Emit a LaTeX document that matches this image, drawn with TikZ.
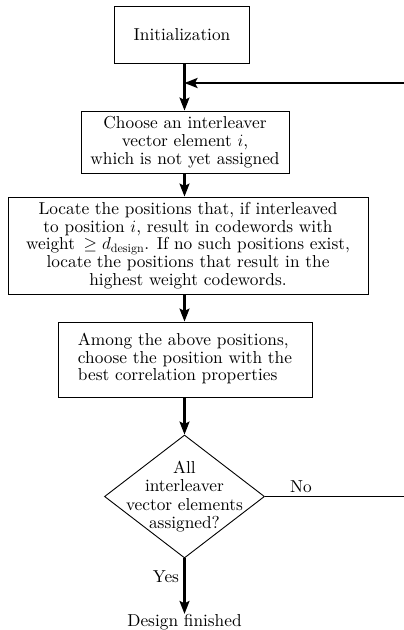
\RequirePackage{fix-cm}
\documentclass[tikz,border=0pt]{standalone}
\usepackage{fontspec}
\setmainfont{lmroman10-regular.otf}[ItalicFont=lmroman10-italic.otf,BoldFont=lmroman10-bold.otf]
\usetikzlibrary{arrows.meta,shapes.geometric}
\begin{document}
\begin{tikzpicture}[x=1pt,y=-1pt,
  font=\fontsize{17.3}{17.8}\selectfont,
  box/.style={draw,line width=0.9pt,inner sep=0pt,align=center},
  flow/.style={line width=2.2pt,-{Stealth[length=13pt,width=10pt,inset=2.5pt]}},
  thin/.style={line width=1.1pt},
  lbl/.style={inner sep=0pt}]
\useasboundingbox (0,0) rectangle (404,630);
\node[box,minimum width=135pt,minimum height=57pt] (init) at (182,34.5) {Initialization};
\node[box,minimum width=208pt,minimum height=62pt] (choose) at (185,142)
  {Choose an interleaver\\vector element $i$,\\which is not yet assigned};
\node[box,minimum width=360pt,minimum height=97pt] (locate) at (188,245.5)
  {Locate the positions that, if interleaved\\to position $i$, result in codewords with\\weight $\,\geq d_{\mathrm{design}}$. If no such positions exist,\\locate the positions that result in the\\highest weight codewords.};
\node[box,minimum width=254pt,minimum height=75pt] (among) at (185,359.5)
  {\begin{tabular}{@{}l@{}}Among the above positions,\\choose the position with the\\best correlation properties\end{tabular}};
\node[draw,diamond,line width=0.9pt,minimum width=160pt,minimum height=123pt,inner sep=0pt] (dec) at (184.5,496.5) {};
\node[lbl,align=center,font=\fontsize{17.3}{18.3}\selectfont] (dectext) at (dec.center)
  {All\\interleaver\\vector elements\\assigned?};
\node[lbl] (done) at (184.5,622) {Design finished};
\node[lbl] (yes) at (166,577) {Yes};
\node[lbl] (no) at (301,487) {No};
\coordinate (r1) at (404,83);
\coordinate (r2) at (404,496.5);
\draw[flow] (init.south -| dec.north) -- (choose.north -| dec.north);
\draw[flow] (r1) -- (r1 -| dec.north);
\draw[flow] (choose.south -| dec.north) -- (locate.north -| dec.north);
\draw[flow] (locate.south -| dec.north) -- (among.north -| dec.north);
\draw[flow] (among.south -| dec.north) -- (dec.north);
\draw[thin] (dec.east) -- (r2);
\draw[flow] (dec.south) -- (done.north);
\end{tikzpicture}
\end{document}
